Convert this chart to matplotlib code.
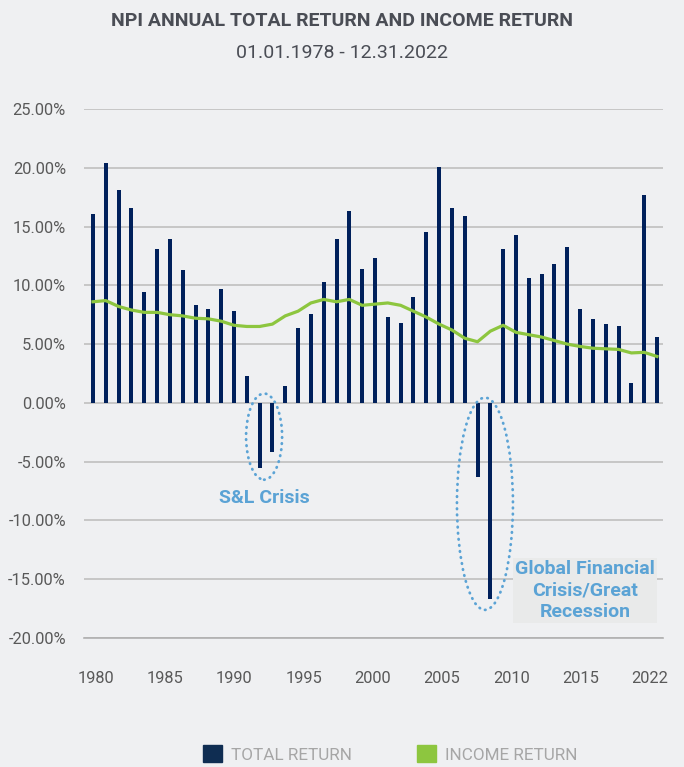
import numpy as np
import matplotlib.pyplot as plt
from matplotlib.patches import Ellipse, Patch

# Annual NPI returns (%)
years = np.arange(1978, 2023)
total_return = [16.1, 20.4, 18.1, 16.6, 9.4, 13.1, 13.9, 11.3, 8.3, 8.0,
                9.7, 7.8, 2.3, -5.5, -4.2, 1.4, 6.4, 7.6, 10.3, 13.9,
                16.3, 11.4, 12.3, 7.3, 6.8, 9.0, 14.5, 20.1, 16.6, 15.9,
                -6.3, -16.7, 13.1, 14.3, 10.6, 11.0, 11.8, 13.3, 8.0, 7.1,
                6.7, 6.5, 1.7, 17.7, 5.6]
income_return = [8.6, 8.7, 8.2, 7.9, 7.7, 7.7, 7.5, 7.4, 7.2, 7.15,
                 6.95, 6.6, 6.5, 6.5, 6.7, 7.4, 7.8, 8.5, 8.8, 8.6,
                 8.8, 8.3, 8.4, 8.5, 8.3, 7.8, 7.3, 6.7, 6.2, 5.5,
                 5.2, 6.1, 6.6, 6.0, 5.8, 5.6, 5.3, 5.0, 4.8, 4.65,
                 4.6, 4.55, 4.25, 4.3, 3.95]
tick_labels = ['1980', '1985', '1990', '1995', '2000', '2005', '2010', '2015', '2022']
y_ticks = np.arange(-20, 30, 5)

BG = '#EFF0F2'
NAVY = '#00205B'
GREEN = '#8DC63F'
NOTE = '#5BA3D5'
plt.rcParams['font.family'] = ['Roboto', 'DejaVu Sans']

fig = plt.figure(figsize=(6.84, 7.67), dpi=100, facecolor=BG)
ax = fig.add_axes([0.1228, 0.1682, 0.8465, 0.6897], facecolor=BG)

ax.bar(years, total_return, width=0.31, color=NAVY, zorder=3)
ax.plot(years, income_return, color=GREEN, lw=2.3, zorder=4)

ax.set_xlim(1977.3, 2022.47)
ax.set_ylim(-20, 25)
ax.set_yticks(y_ticks)
ax.set_yticklabels([f'{v:.2f}%' for v in y_ticks])
ax.set_xticks(np.linspace(1978.21, 2021.45, len(tick_labels)))
ax.set_xticklabels(tick_labels)
ax.tick_params(axis='y', length=0, pad=13, labelsize=11.8, labelcolor='#595959')
ax.tick_params(axis='x', length=0, pad=24, labelsize=11.8, labelcolor='#595959')
ax.grid(axis='y', color='#BFBFBF', lw=1.2, zorder=0)
for s in ['top', 'right', 'left']:
    ax.spines[s].set_visible(False)
ax.spines['bottom'].set_color('#B0B0B0')
ax.spines['bottom'].set_linewidth(1.2)

# crisis call-outs
ax.add_patch(Ellipse((1991.35, -2.87), 2.81, 7.33, fill=False, ec=NOTE,
                     lw=2, ls=(0, (0.2, 2.0)), capstyle='round', zorder=5))
ax.text(1991.4, -8.05, 'S&L Crisis', color=NOTE, fontsize=14,
        fontweight='bold', ha='center', va='center')
ax.add_patch(Ellipse((2008.58, -8.58), 4.37, 18.06, fill=False, ec=NOTE,
                     lw=2, ls=(0, (0.2, 2.0)), capstyle='round', zorder=5))
ax.text(2016.4, -15.96, 'Global Financial\nCrisis/Great\nRecession', color=NOTE,
        fontsize=14, fontweight='bold', ha='center', va='center',
        linespacing=1.22,
        bbox=dict(boxstyle='square,pad=0.1', fc='#E9EAEA', ec='none'))

fig.text(0.5, 1 - 20.5 / 767, 'NPI ANNUAL TOTAL RETURN AND INCOME RETURN',
         ha='center', va='center', fontsize=14, fontweight='bold', color='#4A4D55')
fig.text(0.5, 1 - 52.8 / 767, '01.01.1978 - 12.31.2022', ha='center', va='center',
         fontsize=14, color='#4A4D55')

handles = [Patch(color='#0F2D52', label='TOTAL RETURN'),
           Patch(color=GREEN, label='INCOME RETURN')]
leg = fig.legend(handles=handles, loc='center', bbox_to_anchor=(0.571, 1 - 754 / 767),
                 ncol=2, frameon=False, fontsize=12.3, handlelength=1.12, handleheight=1.12,
                 handletextpad=0.52, columnspacing=3.8)
for t in leg.get_texts():
    t.set_color('#A6A6A6')

fig.savefig('out.png', dpi=100, facecolor=BG)
